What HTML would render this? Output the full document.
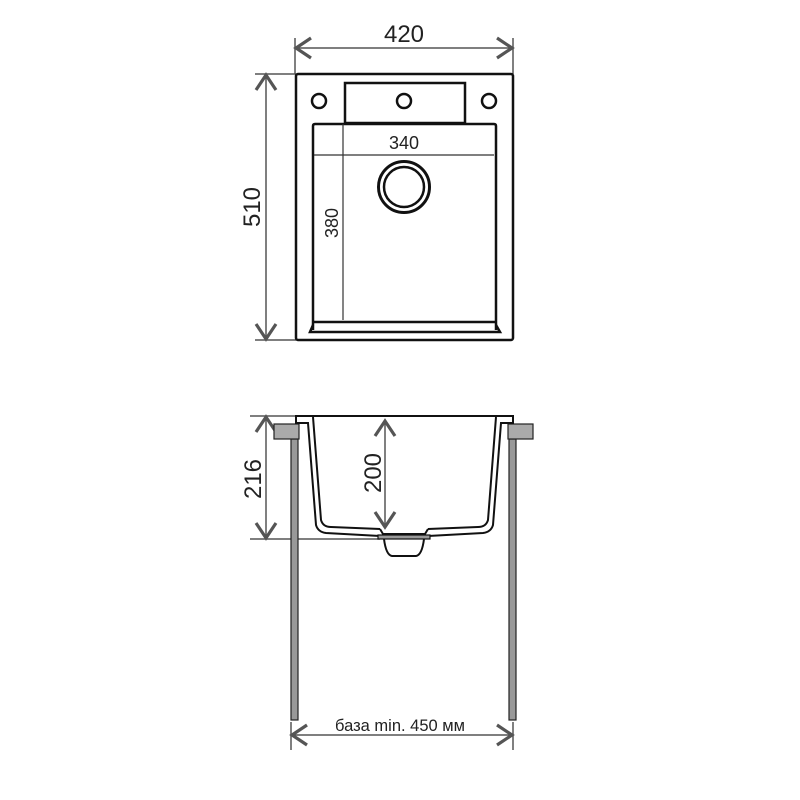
<!DOCTYPE html>
<html><head><meta charset="utf-8"><style>html,body{margin:0;padding:0;background:#fff}svg{display:block}</style></head>
<body>
<svg width="800" height="800" viewBox="0 0 800 800" xmlns="http://www.w3.org/2000/svg" font-family="Liberation Sans, DejaVu Sans, sans-serif">
<g fill="none" stroke="#555" stroke-width="1.5">
  <!-- 420 -->
  <line x1="295" y1="38" x2="295" y2="74"/><line x1="513" y1="38" x2="513" y2="74"/>
  <line x1="296" y1="48" x2="512" y2="48"/>
  <polyline points="311,38 296,48 311,58" stroke-width="3.2"/><polyline points="497,38 512,48 497,58" stroke-width="3.2"/>
  <!-- 510 -->
  <line x1="255" y1="74" x2="296" y2="74"/><line x1="255" y1="340" x2="296" y2="340"/>
  <line x1="266" y1="75" x2="266" y2="339"/>
  <polyline points="256,90 266,75 276,90" stroke-width="3.2"/><polyline points="256,324 266,339 276,324" stroke-width="3.2"/>
  <!-- 216 -->
  <line x1="250" y1="416" x2="296" y2="416"/><line x1="250" y1="539" x2="380" y2="539"/>
  <line x1="266" y1="417" x2="266" y2="538"/>
  <polyline points="256,432 266,417 276,432" stroke-width="3.2"/><polyline points="256,523 266,538 276,523" stroke-width="3.2"/>
  <!-- 200 -->
  <line x1="385" y1="421" x2="385" y2="526"/>
  <polyline points="375,436 385,421 395,436" stroke-width="3.2"/><polyline points="375,512 385,527 395,512" stroke-width="3.2"/>
  <!-- base -->
  <line x1="291" y1="722" x2="291" y2="750"/><line x1="513" y1="722" x2="513" y2="750"/>
  <line x1="292" y1="735" x2="512" y2="735"/>
  <polyline points="307,725 292,735 307,745" stroke-width="3.2"/><polyline points="497,725 512,735 497,745" stroke-width="3.2"/>
</g>
<!-- top view -->
<g fill="none" stroke="#111" stroke-width="2.5">
  <rect x="296" y="74" width="217" height="266" rx="2"/>
  <rect x="345" y="83" width="120" height="40"/>
  <circle cx="319" cy="101" r="7"/><circle cx="404" cy="101" r="7"/><circle cx="489" cy="101" r="7"/>
  <path d="M313,330 L313,126 Q313,124 315,124 L494,124 Q496,124 496,126 L496,330"/>
  <line x1="313" y1="322" x2="496" y2="322"/>
  <path d="M313,325 L310,332 L500,332 L496,325"/>
  <circle cx="404" cy="187" r="25.5" stroke-width="3"/><circle cx="404" cy="187" r="20"/>
</g>
<g stroke="#333" stroke-width="1.2">
  <line x1="314" y1="155" x2="494" y2="155"/><line x1="343" y1="124" x2="343" y2="320"/>
</g>
<!-- side view -->
<g>
  <rect x="291" y="439" width="7" height="281" fill="#999" stroke="#222" stroke-width="1.2"/>
  <rect x="509" y="439" width="7" height="281" fill="#999" stroke="#222" stroke-width="1.2"/>
  <rect x="274" y="424" width="25" height="15" fill="#aaa" stroke="#222" stroke-width="1.2"/>
  <rect x="508" y="424" width="25" height="15" fill="#aaa" stroke="#222" stroke-width="1.2"/>
</g>
<g fill="none" stroke="#111" stroke-width="2">
  <line x1="295" y1="416" x2="514" y2="416"/>
  <path d="M296,417 L296,423 L308,423 L316,525 Q318,532 326,533 L380,536"/>
  <path d="M513,417 L513,423 L501,423 L493,525 Q491,532 483,533 L428,536"/>
  <path d="M313,417 L321,520 Q323,527 331,527 L380,529"/>
  <path d="M496,417 L488,520 Q486,527 478,527 L428,529"/>
  <path d="M380,529 L383,534 L425,534 L428,529"/>
  <path d="M384,539 Q386,555 392,556 L416,556 Q422,555 424,539"/>
</g>
<rect x="378" y="535" width="52" height="4" fill="#999" stroke="#111" stroke-width="1.2"/>
<!-- labels -->
<g fill="#222" font-size="24">
  <text x="404" y="42" text-anchor="middle">420</text>
  <text x="404" y="149" text-anchor="middle" font-size="18">340</text>
  <text transform="translate(260,207) rotate(-90)" text-anchor="middle">510</text>
  <text transform="translate(338,223) rotate(-90)" text-anchor="middle" font-size="18">380</text>
  <text transform="translate(261,479) rotate(-90)" text-anchor="middle">216</text>
  <text transform="translate(381,473) rotate(-90)" text-anchor="middle">200</text>
  <text x="400" y="731" text-anchor="middle" font-size="16.5">база min. 450 мм</text>
</g>
</svg>
</body></html>
